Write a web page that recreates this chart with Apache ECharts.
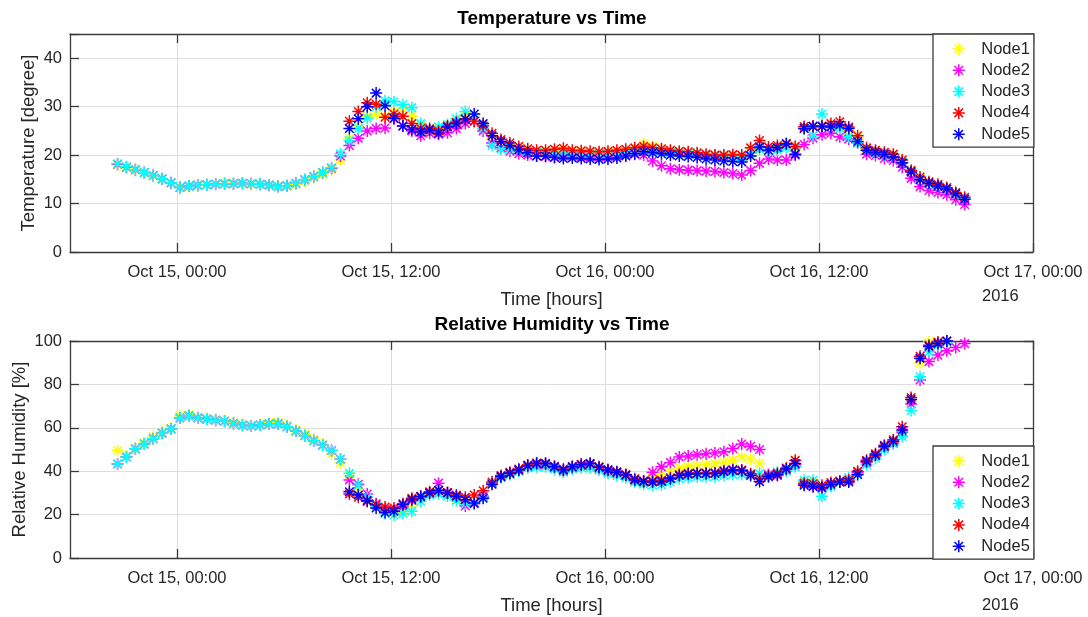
<!DOCTYPE html>
<html><head><meta charset="utf-8">
<script src="https://cdn.jsdelivr.net/npm/echarts@6/dist/echarts.min.js"></script>
<style>html,body{margin:0;padding:0;background:#fff}#c{width:1088px;height:617px}</style>
</head><body><div id="c"></div>
<script>
// x values are hours relative to Oct 15 2016, 00:00
const nodeNames = ['Node1','Node2','Node3','Node4','Node5'];
const nodeColors = ['#ffff00','#ff00ff','#00ffff','#ff0000','#0000ff'];
const startHour = -3 - 20 / 60;   // Oct 14, 20:40
const stepHours = 0.5;            // one reading every 30 min
const xMinHour = -6;              // Oct 14, 18:00
const xMaxHour = 48;              // Oct 17, 00:00
const xTickHours = [0, 12, 24, 36, 48];
const xTickLabels = ['Oct 15, 00:00', 'Oct 15, 12:00', 'Oct 16, 00:00', 'Oct 16, 12:00', 'Oct 17, 00:00'];
const yearLabel = '2016';

const temp1 = [
 18.0,17.4,16.9,16.3,15.7,15.0,14.2,13.4,13.5,13.7,13.9,14.1,
 14.2,14.2,14.1,14.0,14.0,13.9,13.6,13.6,14.0,14.6,15.3,16.1,
 17.0,19.0,23.5,26.0,28.0,28.5,28.0,29.0,29.5,28.0,26.0,25.0,
 25.5,26.0,27.0,28.0,28.0,26.5,23.5,22.0,21.5,21.2,20.9,20.7,
 20.6,20.8,21.0,20.7,20.6,20.5,20.4,20.5,20.6,20.8,21.3,22.3,
 21.8,21.2,20.9,20.6,20.4,20.2,20.0,19.9,19.7,19.6,19.5,19.7,
 21.0,20.8,21.2,21.8,21.0,25.5,25.7,26.0,26.0,26.0,25.0,23.5,
 21.3,20.8,20.4,20.0,19.0,17.0,15.3,14.4,13.8,13.2,12.2,11.1];
const temp2 = [
 18.1,17.5,17.0,16.4,15.8,15.1,14.3,13.3,13.6,13.8,13.9,14.0,
 14.1,14.1,14.2,14.1,14.0,13.8,13.5,13.7,14.2,14.9,15.6,16.4,
 17.3,19.8,22.0,23.5,25.0,25.5,25.6,27.5,26.0,25.0,24.0,24.5,
 24.3,24.6,25.5,26.5,27.0,25.0,22.5,21.5,20.8,20.3,20.0,19.8,
 19.7,19.6,19.8,19.8,19.7,19.6,19.6,19.7,19.8,20.0,20.2,20.0,
 18.8,17.8,17.2,17.0,16.9,16.8,16.7,16.6,16.4,16.2,15.9,16.8,
 18.3,19.2,19.0,19.0,20.0,22.2,23.5,24.2,24.5,23.8,23.3,22.5,
 20.2,19.9,19.3,18.9,17.5,15.2,13.5,12.7,12.3,11.8,10.8,9.8];
const temp3 = [
 18.2,17.6,17.0,16.4,15.8,15.1,14.3,13.3,13.6,13.8,13.9,14.0,
 14.1,14.1,14.2,14.1,14.0,13.8,13.5,13.7,14.2,14.9,15.6,16.4,
 17.4,20.3,23.0,25.5,27.6,30.0,31.2,31.0,30.4,29.8,26.5,25.3,
 25.8,26.3,27.5,29.0,27.8,25.5,22.0,21.2,21.3,21.0,20.8,20.6,
 20.5,20.5,20.6,20.4,20.3,20.2,20.2,20.3,20.4,20.5,20.8,21.2,
 21.0,20.8,20.6,20.5,20.3,20.2,20.0,20.0,19.8,19.6,19.5,20.5,
 21.2,20.8,21.0,21.5,21.5,25.5,24.0,28.5,26.0,25.5,23.8,22.5,
 21.0,20.5,20.0,19.5,18.5,16.8,15.0,14.0,13.5,13.0,12.0,11.0];
const temp4 = [
 null,null,null,null,null,null,null,null,null,null,null,null,
 null,null,null,null,null,null,null,null,null,null,null,null,
 null,null,27.0,29.0,30.8,30.5,27.8,28.5,28.0,26.5,25.5,25.5,
 25.0,26.0,26.8,27.5,27.0,26.0,24.5,23.2,22.5,21.8,21.3,21.0,
 21.0,21.2,21.4,21.0,20.9,20.8,20.7,20.8,21.0,21.2,21.5,21.8,
 21.5,21.3,21.0,20.8,20.7,20.5,20.2,20.0,20.0,20.1,20.0,21.5,
 23.0,21.7,22.0,22.4,21.8,25.9,26.0,26.0,26.5,26.9,25.8,24.0,
 21.5,21.0,20.6,20.2,19.0,16.8,15.5,14.5,14.0,13.3,12.3,11.3];
const temp5 = [
 null,null,null,null,null,null,null,null,null,null,null,null,
 null,null,null,null,null,null,null,null,null,null,null,null,
 null,null,25.5,27.5,30.0,32.8,30.2,27.6,26.0,25.3,24.8,25.2,
 24.5,25.8,26.5,27.4,28.5,26.5,24.0,22.8,22.0,21.1,20.5,19.8,
 19.8,19.5,19.3,19.4,19.3,19.2,19.1,19.2,19.4,19.8,20.3,20.7,
 20.5,20.3,20.0,19.8,19.7,19.5,19.2,19.0,18.8,18.7,18.6,19.8,
 21.7,21.0,21.5,22.3,20.2,25.5,25.9,25.9,25.8,26.2,25.5,22.8,
 21.0,20.6,20.2,19.6,18.4,16.5,14.9,14.2,13.6,13.0,12.0,10.9];

const hum1 = [
 49.5,47.0,50.5,53.0,56.0,58.0,59.8,65.5,66.0,64.8,64.2,63.8,
 63.2,62.3,61.5,61.0,61.5,62.3,62.5,61.0,59.0,57.0,54.8,52.5,
 48.0,44.0,38.0,32.0,27.0,23.5,21.5,21.0,22.0,24.0,27.5,29.5,
 30.0,29.0,27.0,25.5,26.0,28.0,34.0,37.0,38.5,40.0,42.0,42.5,
 42.5,41.5,40.0,41.3,42.0,42.0,41.0,39.5,38.5,37.5,35.5,34.5,
 37.0,38.5,40.0,41.5,42.0,42.7,43.0,43.5,44.2,45.0,46.5,45.5,
 43.5,38.0,38.5,40.5,43.0,35.0,34.5,33.0,34.0,35.2,35.5,39.5,
 44.0,47.0,51.0,53.0,58.5,72.0,90.0,99.5,null,null,null,null];
const hum2 = [
 43.3,46.5,50.3,52.5,55.0,57.5,59.5,64.5,65.5,64.5,64.0,63.5,
 63.0,62.0,61.2,60.8,61.3,61.8,61.8,60.5,58.5,56.3,54.0,52.0,
 49.5,45.5,36.0,34.0,29.5,25.0,22.5,22.0,23.5,26.5,28.0,30.0,
 34.5,30.0,28.0,24.0,25.0,28.5,34.5,37.5,39.0,40.5,42.0,43.0,
 43.0,41.5,40.0,41.5,42.5,42.5,41.0,40.0,39.0,38.0,36.0,35.0,
 39.5,42.0,44.0,46.5,47.0,47.6,48.0,48.4,49.0,50.5,52.5,51.5,
 50.0,38.5,38.0,40.5,43.0,34.0,33.0,32.0,34.0,35.0,35.5,39.5,
 44.0,47.0,51.0,53.0,58.0,71.0,82.0,90.5,93.5,95.5,97.0,98.8];
const hum3 = [
 43.3,46.5,50.3,52.5,55.0,57.5,59.5,64.5,65.5,64.5,64.0,63.5,
 63.0,62.0,61.2,60.8,61.3,61.8,61.8,60.5,58.5,56.3,54.0,52.0,
 49.5,45.5,39.0,33.5,28.0,24.0,20.5,19.8,20.5,21.5,26.0,29.0,
 29.5,28.5,26.5,25.0,25.5,28.0,34.5,37.0,38.5,40.0,41.5,42.0,
 42.0,41.0,39.5,41.0,41.5,41.5,40.5,39.0,38.0,37.0,35.0,34.0,
 33.5,33.8,35.0,36.5,37.0,37.5,37.5,37.5,38.0,38.5,38.5,38.5,
 38.9,38.0,39.5,40.0,42.0,35.8,35.8,28.4,33.0,35.0,37.0,38.5,
 43.0,46.0,50.0,52.5,56.0,68.0,83.5,95.0,98.0,99.5,null,null];
const hum4 = [
 null,null,null,null,null,null,null,null,null,null,null,null,
 null,null,null,null,null,null,null,null,null,null,null,null,
 null,null,29.5,28.0,26.0,24.5,23.5,23.0,25.0,27.5,28.5,30.5,
 31.0,30.2,29.0,28.0,29.0,31.0,35.0,38.0,39.5,41.0,42.8,43.8,
 43.5,42.3,41.0,42.2,43.2,43.5,42.0,40.8,39.8,38.5,36.5,35.5,
 35.5,35.8,37.0,38.5,39.0,39.2,39.2,39.3,40.2,40.8,40.5,38.8,
 36.5,38.0,39.0,41.5,45.0,34.5,34.2,33.5,34.8,35.5,36.0,40.0,
 45.0,48.0,52.0,54.5,60.5,74.0,93.0,98.0,99.5,100,null,null];
const hum5 = [
 null,null,null,null,null,null,null,null,null,null,null,null,
 null,null,null,null,null,null,null,null,null,null,null,null,
 null,null,30.5,29.0,26.5,23.0,21.0,21.5,24.5,27.0,28.3,30.0,
 31.2,30.0,28.5,26.8,25.3,27.5,34.0,37.5,39.0,40.5,42.5,43.5,
 43.5,42.0,40.5,42.0,43.0,43.5,41.8,40.5,39.5,38.2,36.0,35.3,
 35.0,35.3,36.5,38.0,38.6,38.9,38.8,38.9,39.8,40.4,40.2,38.0,
 35.2,37.5,38.4,41.0,43.5,33.5,33.0,32.5,34.0,35.0,35.0,38.5,
 44.5,47.5,51.5,53.8,59.0,73.0,92.0,97.5,98.8,100,null,null];

const tempSeries = [temp1, temp2, temp3, temp4, temp5];
const humSeries = [hum1, hum2, hum3, hum4, hum5];

const FONT = '"Liberation Sans", Arial, Helvetica, sans-serif';
const TXT = '#262626';
const AX = '#3a3a3a';
const GRIDC = '#dedede';
const starPath = 'path://M5,0L5,10M0,5L10,5M1.46,1.46L8.54,8.54M1.46,8.54L8.54,1.46';

function toPoints(arr) {
  const out = [];
  arr.forEach((v, i) => { if (v !== null) out.push([startHour + i * stepHours, v]); });
  return out;
}
function fmtHour(v) {
  const k = xTickHours.indexOf(v);
  return k >= 0 ? xTickLabels[k] : '';
}

function xAxes(gi) {
  const common = { type: 'value', gridIndex: gi, min: xMinHour, max: xMaxHour, interval: 6 };
  return [
    Object.assign({}, common, {
      position: 'bottom',
      name: 'Time [hours]', nameLocation: 'middle', nameGap: 38, nameMoveOverlap: false,
      nameTextStyle: { fontFamily: FONT, fontSize: 18.5, color: TXT },
      axisLine: { show: true, onZero: false, lineStyle: { color: AX, width: 1.3 } },
      axisTick: { show: true, inside: true, length: 9, customValues: xTickHours, lineStyle: { color: AX, width: 1.3 } },
      axisLabel: { show: true, customValues: xTickHours, formatter: fmtHour, fontFamily: FONT, fontSize: 16.5, color: TXT, margin: 12, hideOverlap: false },
      splitLine: { show: true, lineStyle: { color: GRIDC, width: 1 } }
    }),
    Object.assign({}, common, {
      position: 'top',
      axisLine: { show: true, onZero: false, lineStyle: { color: AX, width: 1.3 } },
      axisTick: { show: true, inside: true, length: 9, customValues: xTickHours, lineStyle: { color: AX, width: 1.3 } },
      axisLabel: { show: false },
      splitLine: { show: false }
    })
  ];
}
function yAxes(gi, max, interval, name, nameGap) {
  return [
    {
      type: 'value', gridIndex: gi, min: 0, max: max, interval: interval, position: 'left',
      name: name, nameLocation: 'middle', nameGap: nameGap, nameMoveOverlap: false,
      nameTextStyle: { fontFamily: FONT, fontSize: 18.5, color: TXT },
      axisLine: { show: true, onZero: false, lineStyle: { color: AX, width: 1.3 } },
      axisTick: { show: true, inside: true, length: 9, lineStyle: { color: AX, width: 1.3 } },
      axisLabel: { fontFamily: FONT, fontSize: 16.5, color: TXT, margin: 8,
        formatter: v => (v % interval === 0 ? String(v) : '') },
      splitLine: { show: true, lineStyle: { color: GRIDC, width: 1 } }
    },
    {
      type: 'value', gridIndex: gi, min: 0, max: max, interval: interval, position: 'right',
      axisLine: { show: true, onZero: false, lineStyle: { color: AX, width: 1.3 } },
      axisTick: { show: true, inside: true, length: 9, lineStyle: { color: AX, width: 1.3 } },
      axisLabel: { show: false },
      splitLine: { show: false }
    }
  ];
}

const series = [];
[tempSeries, humSeries].forEach((group, gi) => {
  group.forEach((arr, k) => {
    series.push({
      type: 'scatter', name: nodeNames[k],
      xAxisIndex: gi * 2, yAxisIndex: gi * 2,
      data: toPoints(arr),
      symbol: starPath, symbolSize: 12, symbolKeepAspect: true,
      itemStyle: { color: nodeColors[k], borderColor: nodeColors[k], borderWidth: 1.5, opacity: 1 },
      emphasis: { disabled: true },
      silent: true, animation: false, clip: true
    });
  });
});

function legend(top) {
  return {
    data: nodeNames, orient: 'vertical', left: 933, top: top,
    padding: [6, 4, 4, 19], itemGap: 3.3, itemWidth: 25, itemHeight: 12,
    backgroundColor: '#ffffff', borderColor: AX, borderWidth: 1.3,
    selectedMode: false,
    itemStyle: { borderWidth: 1.5 },
    textStyle: { fontFamily: FONT, fontSize: 16.5, color: TXT, lineHeight: 18, padding: [0, 0, 0, 5] }
  };
}

const chart = echarts.init(document.getElementById('c'), null, { renderer: 'canvas' });
chart.setOption({
  backgroundColor: '#ffffff',
  animation: false,
  grid: [
    { left: 70, top: 34, width: 963, height: 218, containLabel: false, outerBoundsMode: 'none' },
    { left: 70, top: 341, width: 963, height: 217, containLabel: false, outerBoundsMode: 'none' }
  ],
  xAxis: [...xAxes(0), ...xAxes(1)],
  yAxis: [...yAxes(0, 45, 10, 'Temperature [degree]', 32), ...yAxes(1, 100, 20, 'Relative Humidity [%]', 41)],
  legend: [legend(34), legend(446)],
  graphic: [
    { type: 'text', x: 552, y: 19, style: { text: 'Temperature vs Time', font: 'bold 19px ' + FONT, fill: '#000', align: 'center', verticalAlign: 'middle', textAlign: 'center', textVerticalAlign: 'middle' } },
    { type: 'text', x: 552, y: 325, style: { text: 'Relative Humidity vs Time', font: 'bold 19px ' + FONT, fill: '#000', align: 'center', verticalAlign: 'middle', textAlign: 'center', textVerticalAlign: 'middle' } },
    { type: 'text', x: 982, y: 296, style: { text: yearLabel, font: '16.5px ' + FONT, fill: TXT, align: 'left', verticalAlign: 'middle', textAlign: 'left', textVerticalAlign: 'middle' } },
    { type: 'text', x: 982, y: 605, style: { text: yearLabel, font: '16.5px ' + FONT, fill: TXT, align: 'left', verticalAlign: 'middle', textAlign: 'left', textVerticalAlign: 'middle' } }
  ],
  series: series
});
</script>
</body></html>
